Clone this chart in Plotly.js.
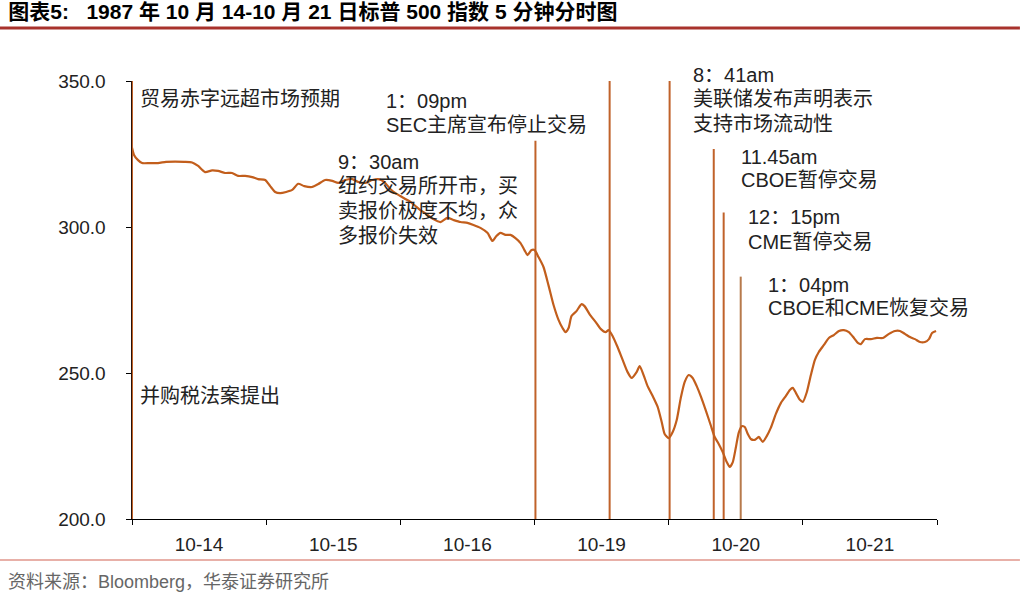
<!DOCTYPE html>
<html>
<head>
<meta charset="utf-8">
<script src="https://cdn.plot.ly/plotly-3.0.1.min.js"></script>
<style>
html,body{margin:0;padding:0;background:#fff;}
#chart{width:1028px;height:594px;}
</style>
</head>
<body>
<div id="chart"></div>
<script>
// ---- Data (x in trading-day units: day i spans [i, i+1]) ----
const dayLabels = ['10-14','10-15','10-16','10-19','10-20','10-21'];
const yTicks = [200, 250, 300, 350];

const seriesX = [
 0,0.015,0.045,0.075,0.134,0.194,0.254,0.321,0.388,0.448,0.493,0.545,0.597,0.642,0.694,0.746,0.791,0.843,0.896,0.940,0.993,
 1.030,1.067,1.104,1.149,1.194,1.239,1.284,1.343,1.388,1.440,1.493,1.537,1.590,1.642,1.687,1.739,1.791,1.836,1.881,1.925,1.963,
 2.0,2.037,2.075,2.112,2.149,2.194,2.246,2.299,2.351,2.396,2.448,2.500,2.545,2.597,2.649,2.687,2.716,2.746,2.784,2.821,2.858,2.896,2.925,2.948,2.978,
 3.0,3.030,3.067,3.104,3.142,3.179,3.209,3.231,3.254,3.276,3.313,3.351,3.373,3.410,3.455,3.493,3.530,3.552,3.582,3.619,3.657,3.694,3.724,3.761,3.784,3.813,3.843,3.881,3.918,3.948,3.970,
 4.0,4.030,4.060,4.090,4.119,4.149,4.179,4.209,4.239,4.276,4.313,4.343,4.373,4.403,4.433,4.455,4.478,4.500,4.522,4.545,4.567,4.590,4.612,4.642,4.672,4.701,4.731,4.761,4.799,4.836,4.873,4.903,4.925,4.948,4.978,
 5.0,5.030,5.060,5.090,5.119,5.157,5.194,5.231,5.269,5.306,5.343,5.381,5.410,5.433,5.463,5.507,5.552,5.597,5.642,5.687,5.724,5.761,5.799,5.836,5.873,5.910,5.940,5.963,5.993
];
const seriesY = [
 327.1,324.7,322.9,321.9,321.9,321.9,322.3,322.4,322.3,322.1,320.9,318.8,319.4,319.2,318.5,318.5,317.5,317.5,317.1,316.4,316.1,
 314.0,312.0,311.6,312.0,312.7,314.8,314.0,313.7,314.7,316.1,315.8,315.1,316.1,316.4,315.4,315.1,316.1,316.4,315.4,313.0,311.6,
 310.6,309.6,308.6,307.2,305.8,304.5,302.7,301.7,303.1,302.4,301.7,301.4,300.7,299.7,298.0,295.2,296.9,298.0,297.3,297.3,296.2,294.5,292.1,290.4,292.1,
 292.1,289.7,286.3,280.1,273.3,268.2,265.4,264.0,265.4,269.5,271.2,273.6,272.9,270.2,267.5,265.1,264.0,264.7,262.7,258.9,254.5,250.3,248.3,250.3,252.4,249.3,245.5,242.1,238.4,233.2,229.1,
 227.7,229.8,233.9,241.4,246.9,249.3,248.3,245.5,242.1,237.3,232.2,228.1,225.7,222.9,219.5,217.8,219.5,224.3,229.5,231.8,231.5,229.1,227.4,227.1,228.1,226.4,228.4,231.2,236.0,239.7,242.1,244.2,244.9,243.2,240.8,
 240.1,243.5,249.3,254.5,257.2,259.6,262.0,263.0,264.4,264.7,264.0,262.0,260.3,259.9,261.6,261.6,262.0,262.0,263.4,264.4,264.4,263.4,262.3,261.6,260.6,260.6,261.6,263.7,264.4
];

// Event vertical lines
const eventX   = [0, 3.007, 3.560, 4.007, 4.336, 4.410, 4.537];
const eventTop = [350, 329.5, 350, 350, 326.7, 305, 283];
const eventColors = ['#C0622A','#C0622A','#C0622A','#C0622A','#C0622A','#C0622A','#B77A4C'];

// Annotation texts: positions in axis units
const noteX = [0.045, 0.045, 1.522, 1.522, 1.522, 1.522, 1.881, 1.881, 4.164, 4.164, 4.164, 4.522, 4.522, 4.575, 4.575, 4.724, 4.724];
const noteY = [344, 242.2, 322.3, 314.0, 305.5, 297.0, 343.3, 335.0, 352.2, 344.0, 335.4, 323.9, 316.1, 303.3, 295.0, 280.3, 272.2];
const noteText = [
 '贸易赤字远超市场预期','并购税法案提出',
 '9：30am','纽约交易所开市，买','卖报价极度不均，众','多报价失效',
 '1：09pm','SEC主席宣布停止交易',
 '8：41am','美联储发布声明表示','支持市场流动性',
 '11.45am','CBOE暂停交易',
 '12：15pm','CME暂停交易',
 '1：04pm','CBOE和CME恢复交易'
];

const traces = [];
for (let i = 0; i < eventX.length; i++) {
  traces.push({
    type: 'scatter', mode: 'lines',
    x: [eventX[i], eventX[i]], y: [200, eventTop[i]],
    line: {color: eventColors[i], width: 2},
    hoverinfo: 'skip', showlegend: false
  });
}
traces.push({
  type: 'scatter', mode: 'lines',
  x: seriesX, y: seriesY,
  line: {color: '#C25E1C', width: 2.2, shape: 'spline', smoothing: 0.6},
  showlegend: false
});
// invisible trace for the day-label axis
traces.push({
  type: 'scatter', mode: 'markers', x: [0, 6], y: [200, 200], xaxis: 'x2',
  marker: {opacity: 0}, hoverinfo: 'skip', showlegend: false
});

const fontFam = 'Liberation Sans, Noto Sans CJK SC, sans-serif';
const annotations = noteText.map((t, i) => ({
  x: noteX[i] / 6, y: (noteY[i] - 200) / 150, xref: 'paper', yref: 'paper', text: t,
  showarrow: false, xanchor: 'left', yanchor: 'middle',
  font: {family: fontFam, size: 20, color: '#222'}
}));
annotations.push({
  xref: 'paper', yref: 'paper', x: -0.156, y: -0.144, xanchor: 'left', yanchor: 'middle',
  text: '资料来源：Bloomberg，华泰证券研究所', showarrow: false,
  font: {family: fontFam, size: 18, color: '#666'}
});

const layout = {
  width: 1028, height: 594,
  margin: {l: 132, r: 91, t: 81, b: 75},
  paper_bgcolor: '#fff', plot_bgcolor: '#fff',
  title: {
    text: '<b>图表5:   1987 年 10 月 14-10 月 21 日标普 500 指数 5 分钟分时图</b>',
    xref: 'container', yref: 'container', x: 0.008, xanchor: 'left', y: 1 - 12/594, yanchor: 'middle',
    font: {family: fontFam, size: 21, color: '#000'}
  },
  xaxis: {
    range: [0, 6], tickvals: [0,1,2,3,4,5,6], showticklabels: false,
    ticks: 'outside', ticklen: 5, tickcolor: '#000', showgrid: false, zeroline: false,
    showline: true, linecolor: '#000', linewidth: 1.2
  },
  xaxis2: {
    overlaying: 'x', range: [0, 6], side: 'bottom', anchor: 'y',
    tickvals: dayLabels.map((d, i) => i + 0.5), ticktext: dayLabels,
    ticks: '', showgrid: false, zeroline: false, showline: false,
    ticklabelstandoff: 12,
    tickfont: {family: 'Liberation Sans, sans-serif', size: 19, color: '#222'}
  },
  yaxis: {
    range: [200, 350], tickvals: yTicks, ticktext: yTicks.map(v => v.toFixed(1)),
    ticks: 'outside', ticklen: 5, tickcolor: '#000', showgrid: false, zeroline: false,
    showline: true, linecolor: '#2a1208', linewidth: 1.5,
    ticklabelstandoff: 16,
    tickfont: {family: 'Liberation Sans, sans-serif', size: 19, color: '#222'}
  },
  shapes: [
    {type: 'line', xref: 'paper', yref: 'paper', x0: -0.164, x1: 1.103, y0: 1.121, y1: 1.121,
     line: {color: '#A8322C', width: 3}},
    {type: 'line', xref: 'paper', yref: 'paper', x0: -0.164, x1: 1.103, y0: -0.0936, y1: -0.0936,
     line: {color: '#E8B0A8', width: 2}}
  ],
  annotations: annotations
};

Plotly.newPlot('chart', traces, layout, {displayModeBar: false, staticPlot: true});
</script>
</body>
</html>
